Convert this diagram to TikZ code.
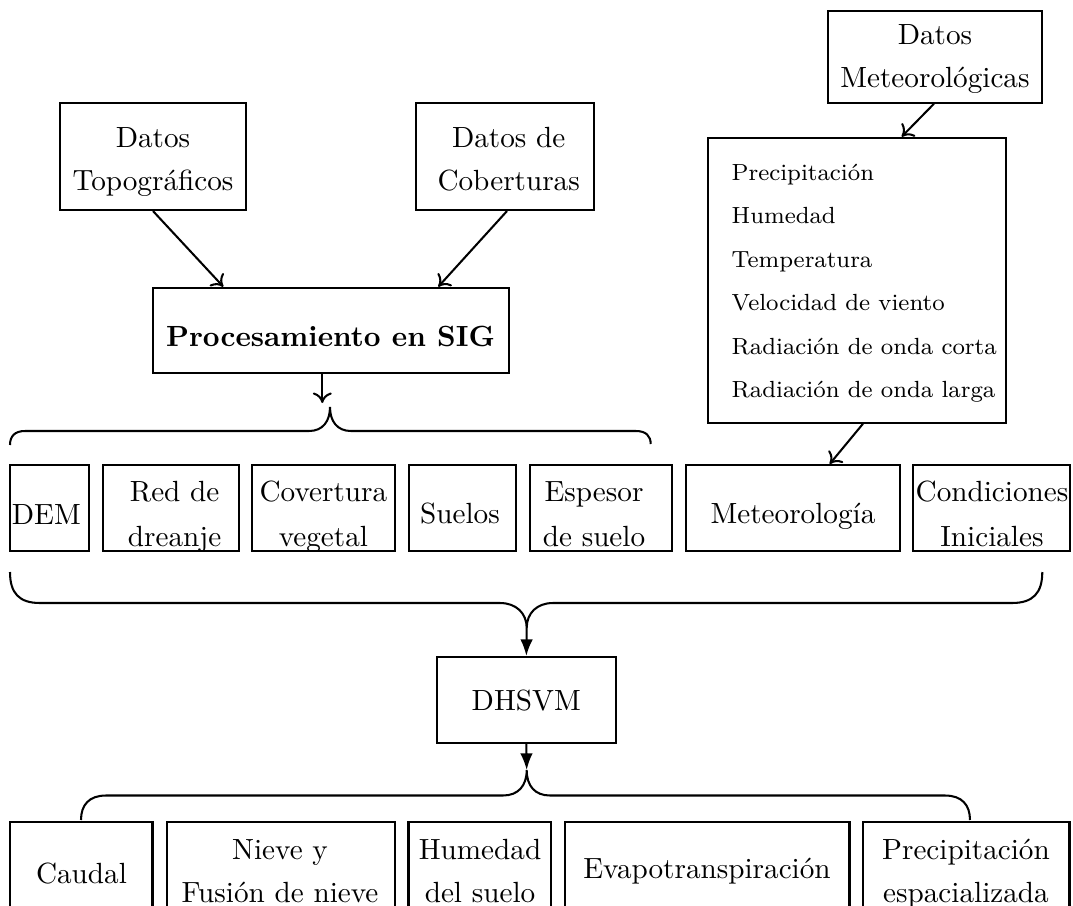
\documentclass[tikz,border=0pt]{standalone}
\usepackage{fontspec}
\usetikzlibrary{arrows.meta,fit}
\begin{document}
\begin{tikzpicture}[x=0.34247pt,y=-0.34247pt,
  line width=0.7pt,
  box/.style={draw, rectangle, inner sep=0pt, line width=0.7pt},
  txt/.style={anchor=base, inner sep=0pt, font=\fontsize{10}{12}\selectfont},
  lst/.style={anchor=base west, inner sep=0pt, font=\footnotesize},
  toarr/.style={-{To[length=3.6pt,width=6.5pt]}},
  ltxarr/.style={-{Latex[length=5.7pt,width=4.3pt]}},
  bracepath/.style={line width=0.7pt}
]
\useasboundingbox (0,0) rectangle (1073,905);
\clip (0,0) rectangle (1073,905);

% top boxes
\node[box, fit={(828,10.7) (1042,102.7)}] (dmet) {};
\node[txt] (dmet1) at (935,44.3) {Datos};
\node[txt] (dmet2) at (935,87.3) {Meteorológicas};

\node[box, fit={(60,103) (246,210)}] (dtop) {};
\node[txt] (dtop1) at (153,147.3) {Datos};
\node[txt] (dtop2) at (153,190) {Topográficos};

\node[box, fit={(415.7,103) (594,210)}] (dcob) {};
\node[txt] (dcob1) at (508.7,147.3) {Datos de};
\node[txt] (dcob2) at (508.7,190) {Coberturas};

\node[box, fit={(152.7,287.7) (509,372.7)}] (sig) {};
\node[txt] (sig1) at (330.5,346.7) {\textbf{Procesamiento en SIG}};

\node[box, fit={(707.7,137.7) (1006,422.7)}] (vars) {};
\node[lst] (v1) at (730.7,180) {Precipitación};
\node[lst] (v2) at (730.7,223.5) {Humedad};
\node[lst] (v3) at (730.7,267) {Temperatura};
\node[lst] (v4) at (730.7,310.5) {Velocidad de viento};
\node[lst] (v5) at (730.7,354) {Radiación de onda corta};
\node[lst] (v6) at (730.7,397.5) {Radiación de onda larga};

% row 1
\node[box, fit={(10,465) (89,551)}] (dem) {};
\node[txt] (dem1) at (46.3,524.5) {DEM};
\node[box, fit={(103,465) (239,551)}] (red) {};
\node[txt] (red1) at (174.6,501.7) {Red de};
\node[txt] (red2) at (174.6,546) {dreanje};
\node[box, fit={(252,465) (395,551)}] (cov) {};
\node[txt] (cov1) at (323.4,501.7) {Covertura};
\node[txt] (cov2) at (323.4,546) {vegetal};
\node[box, fit={(408.7,465) (516,551)}] (sue) {};
\node[txt] (sue1) at (460,523.5) {Suelos};
\node[box, fit={(529.7,465) (672,551)}] (esp) {};
\node[txt] (esp1) at (594,501.7) {Espesor};
\node[txt] (esp2) at (594,546) {de suelo};
\node[box, fit={(685.7,465) (899.7,551)}] (met) {};
\node[txt] (met1) at (793,523.5) {Meteorología};
\node[box, fit={(913.3,465) (1069.7,551)}] (cond) {};
\node[txt] (cond1) at (992,501.7) {Condiciones};
\node[txt] (cond2) at (992,546) {Iniciales};

% model
\node[box, fit={(437,657) (615.7,743)}] (dhsvm) {};
\node[txt] (dhsvm1) at (526.3,710) {DHSVM};

% bottom row
\node[box, fit={(10,822) (152.5,921)}] (cau) {};
\node[txt] (cau1) at (81.5,883) {Caudal};
\node[box, fit={(167,822) (395,921)}] (nie) {};
\node[txt] (nie1) at (280,859) {Nieve y};
\node[txt] (nie2) at (280,902) {Fusión de nieve};
\node[box, fit={(408.5,822) (551,921)}] (hum) {};
\node[txt] (hum1) at (480,859) {Humedad};
\node[txt] (hum2) at (480,902) {del suelo};
\node[box, fit={(565,822) (849.5,921)}] (eva) {};
\node[txt] (eva1) at (707,878) {Evapotranspiración};
\node[box, fit={(863,822) (1069.5,921)}] (pre) {};
\node[txt] (pre1) at (966,859) {Precipitación};
\node[txt] (pre2) at (966,902) {espacializada};

% arrows
\draw[toarr] (dtop.south) -- (223.3,0 |- sig.north);
\draw[toarr] (507,0 |- dcob.south) -- (438.3,0 |- sig.north);
\coordinate (b1in) at (322.3,403);
\draw[toarr] (322.3,0 |- sig.south) -- (b1in);
\draw[toarr] (934,0 |- dmet.south) -- (901.7,0 |- vars.north);
\draw[toarr] (863,0 |- vars.south) -- (829.7,0 |- met.north);

% braces
\coordinate (b1tip) at (330,407);
\draw[bracepath] (10,445) .. controls (10,436) and (15,431) .. (25,431) -- (309,431)
  .. controls (323,431) and (330,421) .. (b1tip)
  .. controls (330,421) and (337,431) .. (351,431) -- (636,431)
  .. controls (646,431) and (650.7,436) .. (650.7,444);

\coordinate (b2tip) at (526.7,628);
\draw[bracepath] (10,572) .. controls (10,593) and (19,603) .. (40,603) -- (500,603)
  .. controls (516,603) and (526.7,613) .. (b2tip)
  .. controls (526.7,613) and (537,603) .. (553,603) -- (1012,603)
  .. controls (1033,603) and (1042.3,593) .. (1042.3,572);
\draw[ltxarr] (b2tip) -- (dhsvm.north);

\coordinate (b3tip) at (526.7,770);
\draw[ltxarr] (dhsvm.south) -- (b3tip);
\draw[bracepath] (81,820) .. controls (81,805) and (89,795.5) .. (106,795.5) -- (503,795.5)
  .. controls (518,795.5) and (526.7,786) .. (b3tip)
  .. controls (526.7,786) and (535,795.5) .. (550,795.5) -- (945,795.5)
  .. controls (962,795.5) and (970,805) .. (970,820);
\end{tikzpicture}
\end{document}
